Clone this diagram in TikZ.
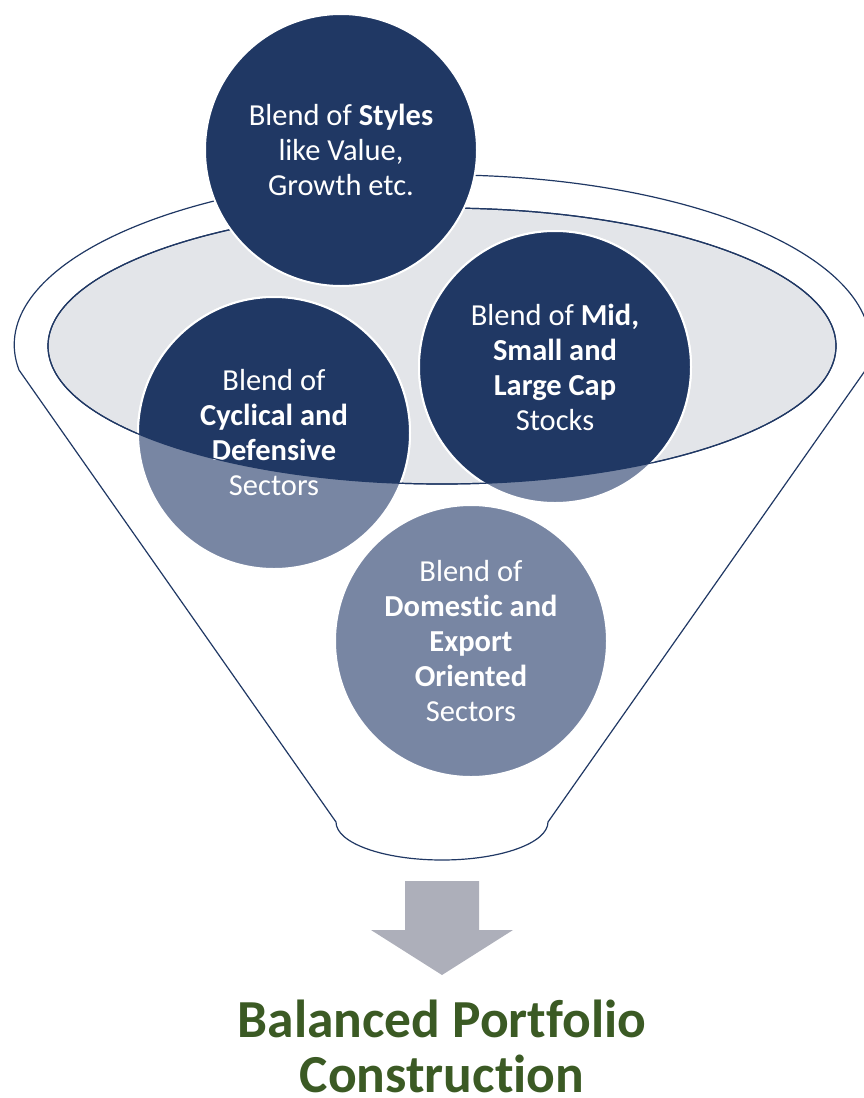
\documentclass[tikz,border=0pt]{standalone}
\usepackage{fontspec}
\setmainfont{Carlito}[Ligatures={NoCommon}]
\usepackage{tikz}
\usetikzlibrary{positioning}
\definecolor{navy}{HTML}{203864}
\definecolor{slate}{HTML}{7886A3}
\definecolor{rim}{HTML}{E3E5E9}
\definecolor{shaft}{HTML}{ADAFBA}
\definecolor{olive}{HTML}{3B5A24}

\begin{document}
\begin{tikzpicture}[x=1pt, y=-1pt,
  blob/.style={circle, minimum size=272pt, inner sep=0pt, draw=white, line width=2pt},
  blurb/.style={text=white, align=center, font=\fontsize{30.5}{35}\selectfont},
  rimline/.style={draw=navy, line width=1.2pt}]
\useasboundingbox (0,0) rectangle (864,1098);
%
\filldraw[rimline, fill=white] (19,370)
  arc[start angle=188.5, end angle=-8.5, x radius=428pt, y radius=170pt]
  -- (548,822) arc[start angle=0, end angle=-180, x radius=106pt, y radius=38pt] -- cycle;
\coordinate (bowl) at (442,346);
\path[rimline, fill=rim] (bowl) ellipse[x radius=394pt, y radius=138pt];
%
\node[blob, fill=slate] (cyc) at (274,433) {};
\node[blob, fill=slate] (cap) at (555,367) {};
\node[blob, fill=slate] (dom) at (471,641) {};
\begin{scope}
  \clip (bowl) ellipse[x radius=394pt, y radius=138pt];
  \filldraw[fill=navy, draw=white, line width=2pt] (cyc.center) circle[radius=136pt];
  \filldraw[fill=navy, draw=white, line width=2pt] (cap.center) circle[radius=136pt];
\end{scope}
\node[blurb] (cyct) at (cyc) {Blend of\\\textbf{Cyclical and}\\\textbf{Defensive}\\Sectors};
\node[blurb] (capt) at (cap) {Blend of \textbf{Mid,}\\\textbf{Small and}\\\textbf{Large Cap}\\Stocks};
\node[blurb] (domt) at (dom) {Blend of\\\textbf{Domestic and}\\\textbf{Export}\\\textbf{Oriented}\\Sectors};
\draw[rimline] (bowl) ellipse[x radius=394pt, y radius=138pt];
%
\node[blob, blurb, fill=navy] (sty) at (341,150) {Blend of \textbf{Styles}\\like Value,\\Growth etc.};
%
\fill[shaft] (405,881) -- (479,881) -- (479,930) -- (513,930) -- (442,975)
  -- (371,930) -- (405,930) -- cycle;
\node[text=olive, align=center, font=\bfseries\fontsize{53.5}{55}\selectfont] (title)
  at (442,1046) {Balanced Portfolio\\Construction};
\end{tikzpicture}
\end{document}
